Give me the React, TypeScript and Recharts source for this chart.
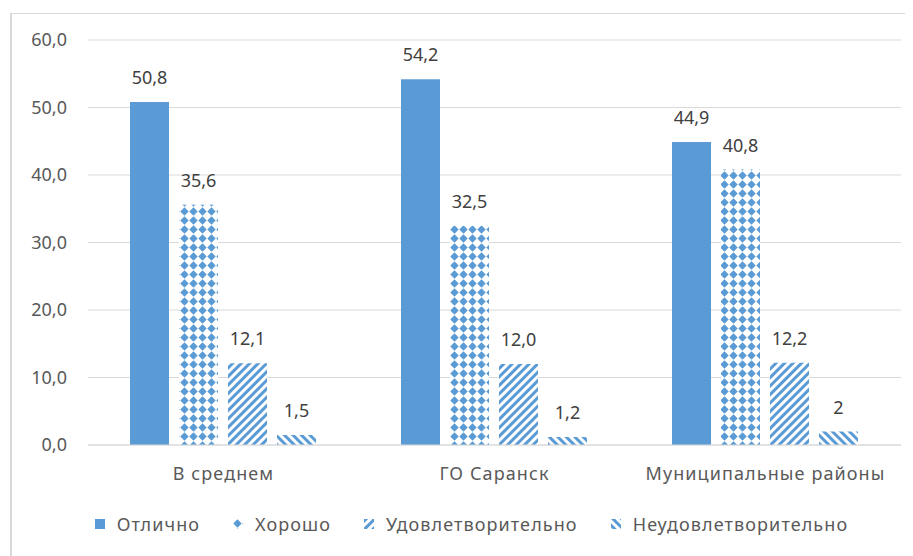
import { BarChart, Bar, XAxis, YAxis, CartesianGrid, Legend, LabelList } from 'recharts';

const categories = ['В среднем', 'ГО Саранск', 'Муниципальные районы'];
const excellent = [50.8, 54.2, 44.9];
const good = [35.6, 32.5, 40.8];
const satisfactory = [12.1, 12.0, 12.2];
const unsatisfactory = [1.5, 1.2, 2];
const yTicks = [0, 10, 20, 30, 40, 50, 60];

const BLUE = '#5b9bd5';
const FONT = '"Noto Sans", sans-serif';

const series = [
  { key: 'excellent', name: 'Отлично', fill: BLUE, fixed: true },
  { key: 'good', name: 'Хорошо', fill: 'url(#patGood)', fixed: true },
  { key: 'satisfactory', name: 'Удовлетворительно', fill: 'url(#patSat)', fixed: true },
  { key: 'unsatisfactory', name: 'Неудовлетворительно', fill: 'url(#patUnsat)', fixed: false },
];

const data = categories.map((name, i) => ({
  name,
  excellent: excellent[i],
  good: good[i],
  satisfactory: satisfactory[i],
  unsatisfactory: unsatisfactory[i],
}));

const comma = (v: number) => v.toFixed(1).replace('.', ',');
const plain = (v: number) => String(v).replace('.', ',');

function LegendContent() {
  return (
    <div style={{ display: 'flex', justifyContent: 'center', alignItems: 'center', gap: 33, fontFamily: FONT, fontSize: 18, letterSpacing: 1.1, color: '#595959', paddingLeft: 42 }}>
      {series.map((s) => (
        <div key={s.key} style={{ display: 'flex', alignItems: 'center' }}>
          <svg width={10} height={10} style={{ marginRight: 12 }}>
            <rect width={10} height={10} fill={s.fill} />
          </svg>
          <span>{s.name}</span>
        </div>
      ))}
    </div>
  );
}

export default function App() {
  return (
    <div style={{ position: 'relative', margin: '-8px 0 0 -8px', width: 913, height: 556, background: '#fff' }}>
      <div style={{ position: 'absolute', left: 10, top: 13, right: 0, bottom: 0, borderTop: '1px solid #d9d9d9', borderLeft: '2px solid #d9d9d9' }} />
      <div style={{ position: 'absolute', left: 0, top: 0 }}>
        <BarChart
          width={913}
          height={556}
          data={data}
          margin={{ top: 40, right: 12, left: 0, bottom: 4 }}
          barCategoryGap="15.5%"
          barGap={10}
        >
          <defs>
            <pattern id="patGood" width={9} height={9} patternUnits="userSpaceOnUse">
              <rect width={9} height={9} fill="#fff" />
              <polygon points="4.5,0.3 8.7,4.5 4.5,8.7 0.3,4.5" fill={BLUE} />
            </pattern>
            <pattern id="patSat" width={6} height={6} patternUnits="userSpaceOnUse" patternTransform="rotate(45)">
              <rect width={6} height={6} fill="#fff" />
              <rect width={3} height={6} fill={BLUE} />
            </pattern>
            <pattern id="patUnsat" width={6} height={6} patternUnits="userSpaceOnUse" patternTransform="rotate(-45)">
              <rect width={6} height={6} fill="#fff" />
              <rect width={3} height={6} fill={BLUE} />
            </pattern>
          </defs>
          <CartesianGrid vertical={false} stroke="#d9d9d9" />
          <XAxis
            dataKey="name"
            height={67}
            tickSize={0}
            tickMargin={22}
            axisLine={{ stroke: '#d9d9d9' }}
            tick={{ fill: '#595959', fontSize: 18, fontFamily: FONT, letterSpacing: 1.1 }}
          />
          <YAxis
            width={88}
            domain={[0, 60]}
            ticks={yTicks}
            tickFormatter={comma}
            axisLine={false}
            tickLine={false}
            tickSize={0}
            tickMargin={21}
            tick={{ fill: '#595959', fontSize: 18, fontFamily: FONT }}
          />
          <Legend verticalAlign="bottom" height={40} content={LegendContent} />
          {series.map((s) => (
            <Bar key={s.key} dataKey={s.key} name={s.name} fill={s.fill} isAnimationActive={false}>
              <LabelList
                dataKey={s.key}
                position="top"
                offset={18}
                formatter={(v: number) => (s.fixed ? comma(v) : plain(v))}
                style={{ fill: '#404040', fontSize: 18, fontFamily: FONT }}
              />
            </Bar>
          ))}
        </BarChart>
      </div>
    </div>
  );
}
